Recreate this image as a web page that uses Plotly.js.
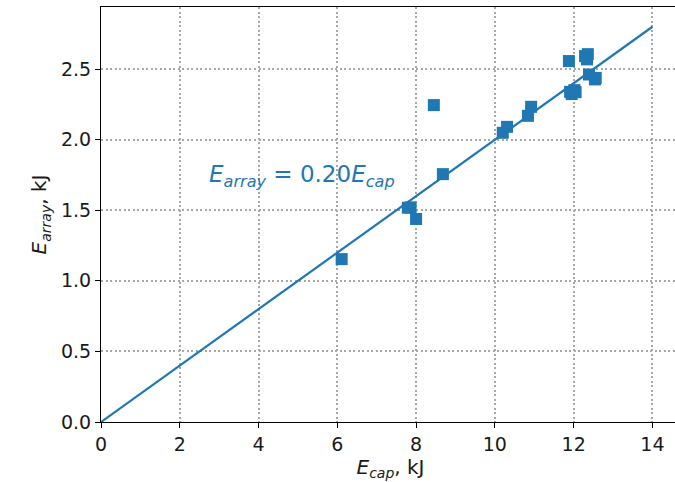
<!DOCTYPE html>
<html>
<head>
<meta charset="utf-8">
<script src="https://cdn.plot.ly/plotly-3.0.1.min.js"></script>
<style>html,body{margin:0;padding:0;overflow:hidden;background:#fff;width:675px;height:482px;}</style>
</head>
<body>
<div id="chart" style="width:685px;height:482px;"></div>
<script>
// Measured data points (E_cap in kJ, E_array in kJ)
const eCap = [6.11, 7.79, 7.86, 8.00, 8.45, 8.68, 10.20, 10.31, 10.84, 10.92,
              11.88, 12.29, 12.36, 12.34, 11.91, 12.02, 11.95, 12.05, 12.39, 12.56, 12.54];
const eArray = [1.154, 1.518, 1.52, 1.438, 2.245, 1.756, 2.049, 2.091, 2.169, 2.233,
                2.557, 2.592, 2.606, 2.569, 2.339, 2.351, 2.323, 2.337, 2.462, 2.438, 2.427];
// Fit line
const slope = 0.20;
const fitX = [0, 14];
const fitY = fitX.map(v => slope * v);
const xTicks = [0, 2, 4, 6, 8, 10, 12, 14];
const yTicks = [0.0, 0.5, 1.0, 1.5, 2.0, 2.5];
const yTickText = ["0.0", "0.5", "1.0", "1.5", "2.0", "2.5"];

const blue = '#1f77b4';
const font = 'DejaVu Sans, sans-serif';

const traces = [
  {x: fitX, y: fitY, type: 'scatter', mode: 'lines',
   line: {color: blue, width: 2.2}, hoverinfo: 'skip', cliponaxis: false},
  {x: eCap, y: eArray, type: 'scatter', mode: 'markers',
   marker: {symbol: 'square', size: 12, color: blue}}
];

const axisCommon = {
  showline: true, linecolor: '#000', linewidth: 1, mirror: true,
  ticks: 'outside', ticklen: 5, tickwidth: 1, tickcolor: '#000',
  showgrid: true, gridcolor: '#a8a8a8', gridwidth: 2, griddash: '2px,2.5px',
  zeroline: false, tickfont: {family: font, size: 19, color: '#1a1a1a'}
};

const layout = {
  width: 685, height: 482,
  margin: {l: 101, r: 5, t: 7, b: 60},
  paper_bgcolor: '#fff', plot_bgcolor: '#fff',
  showlegend: false,
  font: {family: font, color: '#1a1a1a'},
  xaxis: Object.assign({}, axisCommon, {
    range: [0, 14.7], tickvals: xTicks, ticktext: xTicks.map(String),
    title: {text: '<i>E</i><sub><i>cap</i></sub>, kJ', font: {family: font, size: 20}, standoff: 3}
  }),
  yaxis: Object.assign({}, axisCommon, {
    range: [0, 2.94], tickvals: yTicks, ticktext: yTickText,
    title: {text: '<i>E</i><sub><i>array</i></sub>, kJ', font: {family: font, size: 20}, standoff: 8}
  }),
  annotations: [{
    x: 5.1, y: 1.74, xref: 'x', yref: 'y', showarrow: false,
    text: '<i>E</i><sub><i>array</i></sub> = 0.20<i>E</i><sub><i>cap</i></sub>',
    font: {family: font, size: 23, color: blue}
  }]
};

Plotly.newPlot('chart', traces, layout, {staticPlot: true, displayModeBar: false});
</script>
</body>
</html>
